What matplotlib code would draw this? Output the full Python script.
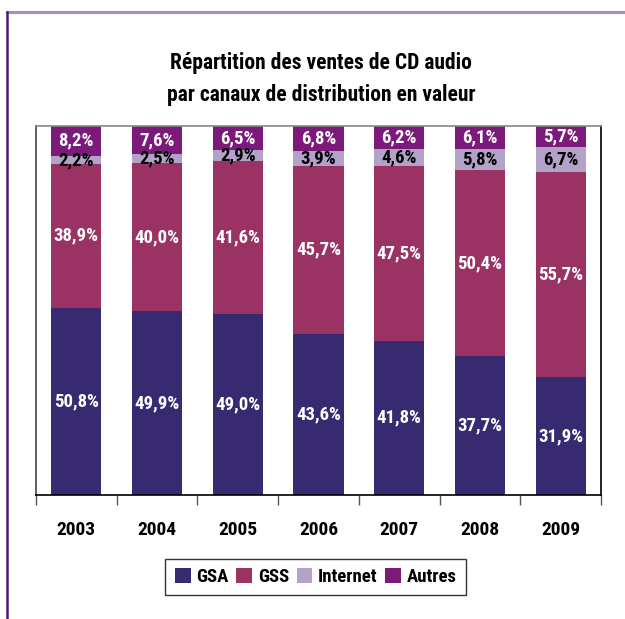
import numpy as np
import matplotlib.pyplot as plt
from matplotlib.lines import Line2D
from matplotlib.patches import Patch

# --- data: shares of CD audio sales by distribution channel (%) ---
years = ["2003", "2004", "2005", "2006", "2007", "2008", "2009"]
gsa = [50.8, 49.9, 49.0, 43.6, 41.8, 37.7, 31.9]
gss = [38.9, 40.0, 41.6, 45.7, 47.5, 50.4, 55.7]
internet = [2.2, 2.5, 2.9, 3.9, 4.6, 5.8, 6.7]
autres = [8.2, 7.6, 6.5, 6.8, 6.2, 6.1, 5.7]

series = [("GSA", gsa, "#372a70", "white"),
          ("GSS", gss, "#9a3363", "white"),
          ("Internet", internet, "#b3a2c8", "black"),
          ("Autres", autres, "#7b1a7a", "white")]

plt.rcParams["font.family"] = ["Roboto Condensed", "DejaVu Sans"]
plt.rcParams["font.weight"] = "bold"

fig = plt.figure(figsize=(6.25, 6.19), dpi=100)
ax = fig.add_axes([0.0576, 0.2003, 0.904, 0.5961])

x = np.arange(len(years))
bottom = np.zeros(len(years))
for name, vals, color, tc in series:
    vals = np.array(vals)
    ax.bar(x, vals, 0.62, bottom=bottom, color=color, label=name, zorder=2)
    for xi, b, v in zip(x, bottom, vals):
        ax.text(xi, b + v / 2, f"{v:.1f}%".replace(".", ","), ha="center", va="center",
                color=tc, fontsize=13.5, fontweight="bold", zorder=3)
    bottom += vals

ax.set_xlim(-0.5, len(years) - 0.5)
ax.set_ylim(0, 100)
ax.set_yticks([])
ax.set_xticks(x)
ax.set_xticklabels(years, fontsize=14, fontweight="bold")
ax.tick_params(axis="x", which="major", length=0, pad=19)
ax.set_xticks(np.arange(-0.5, len(years)), minor=True)
ax.tick_params(axis="x", which="minor", length=7, width=1, color="#555555")

ax.spines["left"].set_color("#444444")
ax.spines["top"].set_color("#888888")
ax.spines["right"].set_color("black")
ax.spines["bottom"].set_color("black")
for s in ax.spines.values():
    s.set_linewidth(1.2)

fig.text(0.5136, 0.898, "Répartition des ventes de CD audio", ha="center", va="center",
         fontsize=15.5, fontweight="bold")
fig.text(0.5136, 0.847, "par canaux de distribution en valeur", ha="center", va="center",
         fontsize=15.5, fontweight="bold")

handles = [Patch(facecolor=c, label=n) for n, _, c, _ in series]
leg = fig.legend(handles=handles, loc="center", bbox_to_anchor=(0.505, 0.068), ncol=4,
                 frameon=True, fancybox=False, edgecolor="black", fontsize=13.5,
                 handlelength=0.85, handleheight=0.85, handletextpad=0.3, columnspacing=0.4,
                 borderpad=0.5, borderaxespad=0)
leg.get_frame().set_linewidth(1.0)

# outer frame lines
fig.add_artist(Line2D([0.011, 1.0], [0.980, 0.980], color="#a98bc0", lw=2.2))
fig.add_artist(Line2D([0.011, 0.011], [0.0, 0.981], color="#4a1a6a", lw=1.8))

fig.savefig("out.png", dpi=100)
